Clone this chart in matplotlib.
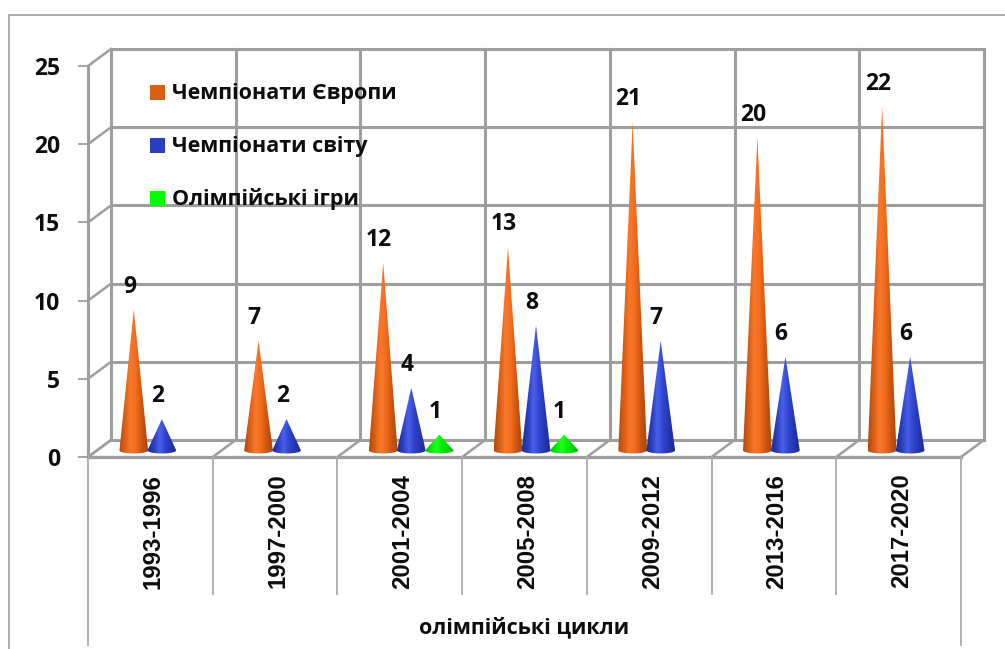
import numpy as np
import matplotlib.pyplot as plt
from matplotlib.patches import Polygon, Rectangle
from matplotlib.transforms import ScaledTranslation

W, H = 1005, 649
GRID = '#9e9e9e'
TEXT = '#0d0d0d'

cycles = ['1993-1996', '1997-2000', '2001-2004', '2005-2008', '2009-2012', '2013-2016', '2017-2020']
europe = [9, 7, 12, 13, 21, 20, 22]
world = [2, 2, 4, 8, 7, 6, 6]
olympics = [0, 0, 1, 1, 0, 0, 0]
y_ticks = [0, 5, 10, 15, 20, 25]
series_names = ['Чемпіонати Європи', 'Чемпіонати світу', 'Олімпійські ігри']
axis_title = 'олімпійські цикли'

plt.rcParams['font.family'] = ['Open Sans', 'DejaVu Sans']
plt.rcParams['font.weight'] = 'bold'


def px_x(p):
    return p / W


def px_y(p):
    return 1 - p / H


fig = plt.figure(figsize=(W / 100, H / 100), dpi=100)
fig.patch.set_facecolor('white')
# front plane of the fake 3d box
ax = fig.add_axes([px_x(88), px_y(457), (961 - 88) / W, (457 - 66) / H])
ax.set_xlim(0, 7)
ax.set_ylim(0, 25)
ax.patch.set_alpha(0)
for s in ax.spines.values():
    s.set_visible(False)

# outer picture frame
fig.add_artist(Rectangle((px_x(8.5), px_y(660)), (1020) / W, (660 - 15) / H, fill=False,
                         edgecolor='#a6a6a6', linewidth=1.3, transform=fig.transFigure))

# depth of box in data units
dx = 23 / ((961 - 88) / 7)
dy = 17 / ((457 - 66) / 25)

# back wall + floor + side wall
for v in y_ticks:
    ax.plot([dx, 7 + dx], [v + dy, v + dy], color=GRID, lw=2.2, clip_on=False, zorder=1)
    ax.plot([0, dx], [v, v + dy], color=GRID, lw=1.8, clip_on=False, zorder=1)
for c in range(8):
    ax.plot([c + dx, c + dx], [dy, 25 + dy], color=GRID, lw=2.2, clip_on=False, zorder=1)
    ax.plot([c, c + dx], [0, dy], color=GRID, lw=1.8, clip_on=False, zorder=1)
ax.plot([0, 0], [0, 25], color=GRID, lw=2.2, clip_on=False, zorder=1)
ax.plot([0, 7], [0, 0], color=GRID, lw=2.4, clip_on=False, zorder=1)

# lower category table lines, blended coords: x data, y in pixels
trans = ax.get_xaxis_transform()
for c in range(8):
    bottom = 645 if c in (0, 7) else 594
    ax.plot([c, c], [0, -(bottom - 457) / (457 - 66)], color='#ababab', lw=1.3,
            transform=trans, clip_on=False, zorder=1)

# gradient for a cone: dark at edges, lightest just left of centre
ramps = {
    'orange': ['#b04a0e', '#d95f14', '#f9782a', '#f06a1c', '#c9540f', '#a8460c'],
    'blue': ['#1c2c96', '#2a3ebf', '#4a60ea', '#2f44cc', '#2436b0', '#1a2a90'],
    'green': ['#00c800', '#00e800', '#22ff22', '#00ee00', '#00d400', '#00b800'],
}


def rgb_ramp(colors):
    vals = np.array([[int(c[i:i + 2], 16) / 255 for i in (1, 3, 5)] for c in colors])
    xs = np.linspace(0, 1, 120)
    stops = np.linspace(0, 1, len(colors))
    return np.dstack([np.interp(xs, stops, vals[:, k]) for k in range(3)])


def draw_cone(x0, value, half, name):
    # base ellipse sits half way into the box depth
    base = dy / 2 - 0.12
    t = np.linspace(np.pi, 2 * np.pi, 30)
    ex = x0 + half * np.cos(t)
    ey = base + 0.2 * np.sin(t)
    top = base + value
    outline = np.column_stack([np.r_[ex, x0], np.r_[ey, top]])
    poly = Polygon(outline, closed=True, transform=ax.transData, fc='none', ec='none')
    ax.add_patch(poly)
    im = ax.imshow(rgb_ramp(ramps[name]), extent=(x0 - half, x0 + half, base - 0.4, top),
                   aspect='auto', zorder=3, interpolation='bilinear')
    im.set_clip_path(poly)
    im.set_clip_on(True)


centers = np.arange(7) + 0.5 + dx / 2
half = 0.115
step = 0.225
for i in range(7):
    for off, vals, name in [(-step, europe, 'orange'), (0, world, 'blue'), (step, olympics, 'green')]:
        v = vals[i]
        if v == 0:
            continue
        draw_cone(centers[i] + off, v, half, name)
        ax.text(centers[i] + off - 0.035, v + dy / 2 + 1.33, str(v), ha='center', va='center',
                fontsize=16.5, color=TEXT, zorder=5, clip_on=False)

ax.set_xlim(0, 7)
ax.set_ylim(0, 25)

ax.set_yticks(y_ticks)
ax.set_yticklabels([str(v) for v in y_ticks], fontsize=16.5, color=TEXT)
ax.tick_params(axis='y', length=7, width=1.3, color=GRID, pad=13)
ax.set_xticks(np.arange(7) + 0.5)
ax.set_xticklabels(cycles, rotation=90, fontsize=17.3, color=TEXT,
                   family=['Liberation Sans', 'DejaVu Sans'], weight='bold')
ax.tick_params(axis='x', length=0, pad=12)
# nudge year labels a little to the right
for lbl in ax.get_xticklabels():
    lbl.set_transform(lbl.get_transform() + ScaledTranslation(3 / 100, 0, fig.dpi_scale_trans))
fig.text(px_x(524), px_y(628), axis_title, ha='center', va='center', fontsize=15.5, color=TEXT)

# legend by hand, it lies on top of the grid
legend_colors = ['#d95f14', '#2a3ebf', '#00ff00']
for name, col, py in zip(series_names, legend_colors, [92, 145, 198]):
    fig.add_artist(Rectangle((px_x(150), px_y(py + 7.5)), 15 / W, 15 / H, fc=col, ec='none',
                             transform=fig.transFigure, zorder=6))
    fig.text(px_x(172), px_y(py + 1.5), name, ha='left', va='center', fontsize=15.5, color=TEXT, zorder=6)

fig.savefig('out.png', dpi=100)
